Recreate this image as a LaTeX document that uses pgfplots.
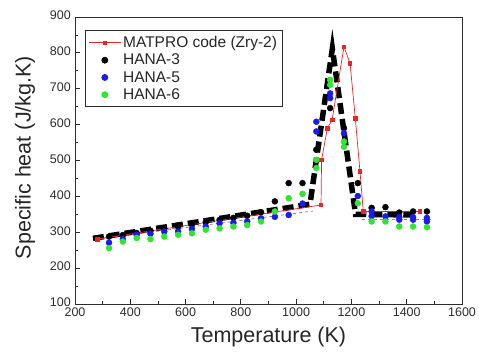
\documentclass[border=0pt]{standalone}
\usepackage{pgfplots}
\pgfplotsset{compat=1.18}
\usepackage{fontspec}
\setmainfont{Liberation Sans}
\definecolor{matred}{RGB}{240,35,35}
\definecolor{hblue}{RGB}{25,25,240}
\definecolor{hgreen}{RGB}{45,230,45}
\definecolor{fitpurple}{RGB}{150,120,200}
\definecolor{axgray}{RGB}{45,45,45}
\begin{document}
\begin{tikzpicture}
\begin{axis}[name=ax, scale only axis, width=387pt, height=287pt,
 xmin=200, xmax=1600, ymin=100, ymax=900,
 xtick={200,400,...,1600}, minor x tick num=1,
 ytick={100,200,...,900}, minor y tick num=1,
 tick align=inside, xtick pos=bottom, ytick pos=left,
 major tick length=5pt, minor tick length=3pt,
 axis line style={axgray, line width=0.9pt},
 every tick/.style={axgray, line width=0.8pt},
 /pgf/number format/assume math mode=true,
 /pgf/number format/1000 sep={},
 tick label style={font=\fontsize{12.5}{13}\selectfont, text=axgray},
 xticklabel style={inner sep=1pt, yshift=-3pt},
 yticklabel style={inner sep=1pt, xshift=-3pt, yshift=1.5pt},
 xlabel={Temperature (K)}, ylabel={Specific heat (J/kg.K)},
 every axis x label/.style={at={(axis description cs:0.5,-0.115)}, anchor=center,
   font=\fontsize{21.5}{24}\selectfont, text=black!85},
 every axis y label/.style={at={(axis description cs:-0.129,0.51)}, anchor=center, rotate=90,
   font=\fontsize{21.5}{24}\selectfont, text=black!85},
 legend style={at={(0.026,0.955)}, anchor=north west, draw=axgray, line width=0.8pt,
   font=\fontsize{15.5}{17}\selectfont, inner xsep=3pt, inner ysep=4pt, row sep=1pt,
   text=black!85},
 legend cell align=left,
 legend image code/.code={\draw[mark repeat=2,mark phase=2,#1] plot coordinates {(0pt,0pt) (16pt,0pt) (32pt,0pt)};},
]
% thick black dashed fit
\addplot[black, line width=5.5pt, dash pattern=on 11pt off 5pt, line cap=butt, forget plot]
 coordinates {(265,283) (1050,378) (1131,812) (1215,350) (1440,348)};
% faint purple dashed
\addplot[fitpurple, line width=0.8pt, dashed, forget plot]
 coordinates {(300,283) (1060,359)};
\addplot[fitpurple, line width=0.8pt, dashed, forget plot]
 coordinates {(1240,337) (1495,337)};
% MATPRO
\addplot[matred, line width=0.7pt, mark=square*, mark size=1.8pt]
 coordinates {(280,281) (1090,376) (1092,502) (1113,590) (1130,613) (1173,817)
 (1195,771) (1214,618) (1231,469) (1243,358) (1448,358)};
\addlegendentry{MATPRO code (Zry-2)}
% HANA-3
\addplot[only marks, mark=*, mark size=3pt, black]
 coordinates {(323,288) (373,292) (423,298) (473,304) (523,310) (573,316) (623,322)
 (673,328) (723,334) (773,340) (823,346) (873,356) (923,386) (973,437) (1023,437)
 (1073,530) (1123,646) (1173,590) (1223,437) (1273,368) (1323,370) (1373,355)
 (1423,358) (1473,358)};
\addlegendentry{HANA-3}
% HANA-5
\addplot[only marks, mark=*, mark size=3pt, hblue]
 coordinates {(323,271) (373,281) (423,293) (473,296) (523,302) (573,302) (623,309)
 (673,316) (723,325) (773,326) (823,330) (873,339) (923,343) (973,348) (1023,380)
 (1073,608) (1073,581) (1123,687) (1123,674) (1173,576) (1223,401) (1273,345)
 (1273,358) (1323,344) (1373,335) (1373,342) (1423,335) (1423,342) (1473,330) (1473,340)};
\addlegendentry{HANA-5}
% HANA-6
\addplot[only marks, mark=*, mark size=3pt, hgreen]
 coordinates {(323,256) (373,274) (423,284) (473,281) (523,288) (573,293) (623,297)
 (673,307) (723,311) (773,316) (823,320) (873,330) (923,358) (973,395) (1023,407)
 (1073,502) (1073,479) (1123,725) (1123,711) (1173,553) (1173,538) (1223,381)
 (1273,330) (1323,330) (1373,316) (1423,316) (1473,314)};
\addlegendentry{HANA-6}
\end{axis}
\pgfresetboundingbox
\path[use as bounding box] ([xshift=-75pt,yshift=-52pt]ax.south west) rectangle ([xshift=17pt,yshift=17pt]ax.north east);
\end{tikzpicture}
\end{document}
